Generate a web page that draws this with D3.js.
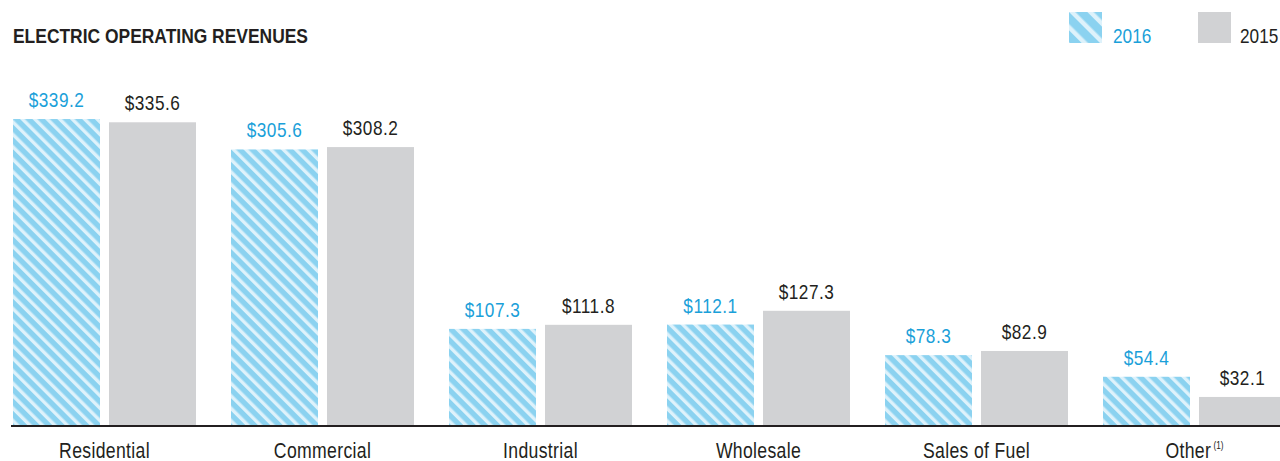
<!DOCTYPE html>
<html>
<head>
<meta charset="utf-8">
<script src="https://cdn.jsdelivr.net/npm/d3@7"></script>
<style>
  html, body { margin: 0; padding: 0; background: #fff; }
  svg { display: block; }
  text { font-family: "Liberation Sans", Arial, sans-serif; }
</style>
</head>
<body>
<script>
const categories = ["Residential", "Commercial", "Industrial", "Wholesale", "Sales of Fuel", "Other"];
const footnotes = ["", "", "", "", "", "(1)"];
const series = ["2016", "2015"];
const values2016 = [339.2, 305.6, 107.3, 112.1, 78.3, 54.4];
const values2015 = [335.6, 308.2, 111.8, 127.3, 82.9, 32.1];
const title = "ELECTRIC OPERATING REVENUES";

const W = 1280, H = 461;
const blue = "#8bd2f0", blueLight = "#def2fb", blueText = "#1aa0d9", gray = "#d1d2d4", dark = "#231f20";
const SX = 0.82; // horizontal condensing of text

const svg = d3.select("body").append("svg").attr("width", W).attr("height", H);

const defs = svg.append("defs");
function stripe(id, size, light) {
  const p = defs.append("pattern").attr("id", id).attr("patternUnits", "userSpaceOnUse")
    .attr("width", size).attr("height", size).attr("patternTransform", "rotate(-45)");
  p.append("rect").attr("width", size).attr("height", size).attr("fill", blue);
  p.append("rect").attr("x", 0).attr("width", light).attr("height", size).attr("fill", blueLight);
}
stripe("stripes", 8.8, 3.4);
stripe("stripesLegend", 13, 4.5);

const x0 = d3.scaleBand().domain(categories).range([13, 1286]).paddingInner(35 / 218).paddingOuter(0);
const x1 = d3.scaleBand().domain(series).range([0, x0.bandwidth()]).paddingInner(9 / 96).paddingOuter(0);
const y = d3.scaleLinear().domain([0, 350]).range([426, 426 - 350 * 0.905]);

const rows = categories.map((c, i) => ({ cat: c, note: footnotes[i], vals: [
  { s: "2016", v: values2016[i] }, { s: "2015", v: values2015[i] }] }));

const g = svg.append("g");
const grp = g.selectAll("g.grp").data(rows).join("g").attr("class", "grp")
  .attr("transform", d => `translate(${x0(d.cat)},0)`);

grp.selectAll("rect").data(d => d.vals).join("rect")
  .attr("x", d => x1(d.s)).attr("width", x1.bandwidth())
  .attr("y", d => y(d.v)).attr("height", d => y(0) - y(d.v))
  .attr("fill", d => d.s === "2016" ? "url(#stripes)" : gray);

grp.selectAll("text.val").data(d => d.vals).join("text").attr("class", "val")
  .attr("transform", d => `translate(${x1(d.s) + x1.bandwidth() / 2},${y(d.v) - 12}) scale(${SX},1)`)
  .attr("text-anchor", "middle").attr("font-size", 21).attr("letter-spacing", 0.6)
  .attr("fill", d => d.s === "2016" ? blueText : dark)
  .text(d => "$" + d3.format(".1f")(d.v));

// axis baseline
svg.append("line").attr("x1", 11).attr("x2", W).attr("y1", 426).attr("y2", 426)
  .attr("stroke", dark).attr("stroke-width", 2);

// category labels
const cl = grp.append("text").attr("class", "cat")
  .attr("transform", `translate(${x0.bandwidth() / 2},457.5) scale(${SX},1)`)
  .attr("text-anchor", "middle").attr("font-size", 21.5).attr("letter-spacing", 0.4).attr("fill", dark);
cl.append("tspan").text(d => d.cat);
cl.filter(d => d.note).append("tspan").attr("font-size", 10).attr("dx", 3).attr("dy", -9)
  .attr("letter-spacing", 0).text(d => d.note);

// title
svg.append("text").attr("x", 13).attr("y", 43).attr("font-size", 20).attr("font-weight", "bold")
  .attr("fill", dark).attr("textLength", 295).attr("lengthAdjust", "spacingAndGlyphs").text(title);

// legend
const legendItems = [
  { s: "2016", fill: "url(#stripesLegend)", color: blueText, x: 1069, tx: 44 },
  { s: "2015", fill: gray, color: dark, x: 1198, tx: 42 }
];
const lg = svg.append("g").selectAll("g").data(legendItems).join("g")
  .attr("transform", d => `translate(${d.x},12)`);
lg.append("rect").attr("width", 33).attr("height", 31).attr("fill", d => d.fill);
lg.append("text").attr("transform", d => `translate(${d.tx},31) scale(${SX},1)`).attr("font-size", 21)
  .attr("fill", d => d.color).text(d => d.s);
</script>
</body>
</html>
